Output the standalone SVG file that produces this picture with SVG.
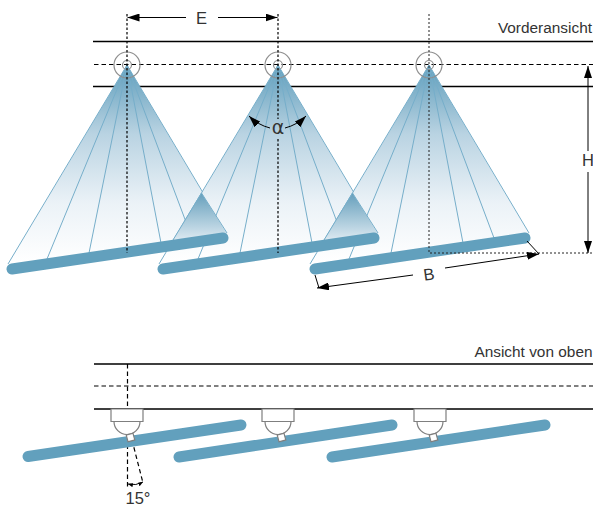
<svg xmlns="http://www.w3.org/2000/svg" xmlns:xlink="http://www.w3.org/1999/xlink" width="593" height="506" viewBox="0 0 593 506">
<style>
.t{font-family:"Liberation Sans",Arial,sans-serif;font-size:15.4px;fill:#333}
.b{font-size:16.5px}
.s{stroke:#000;stroke-width:1.5;fill:none}
.d{stroke:#000;stroke-width:1.2;fill:none;stroke-dasharray:4.500 3}
.dv{stroke:#000;stroke-width:1.2;fill:none;stroke-dasharray:2.500 2}
.ds{stroke:#222;stroke-width:1;fill:none;stroke-dasharray:2 2}
.a{stroke:#000;stroke-width:1;fill:none}
.ray{stroke:#76aeca;stroke-width:1;fill:none}
.bar{stroke:#62a0bd;stroke-width:11;stroke-linecap:round;fill:none}
.g{stroke:#8f8f8f;stroke-width:1.2;fill:none}
.c{stroke:#7f7f7f;stroke-width:1.2;fill:#fff}
</style>
<defs>
<linearGradient id="cone" gradientUnits="userSpaceOnUse" x1="0" y1="65" x2="0" y2="262">
<stop offset="0" stop-color="#5e9dbb"/><stop offset=".35" stop-color="#b9d3e2"/><stop offset=".7" stop-color="#ebf2f7"/><stop offset="1" stop-color="#fff"/>
</linearGradient>
<linearGradient id="ov" gradientUnits="userSpaceOnUse" x1="0" y1="193" x2="0" y2="240">
<stop offset="0" stop-color="#659fbc"/><stop offset="1" stop-color="#dce9f1"/>
</linearGradient>
<marker id="ah" viewBox="0 0 12 8" refX="12" refY="4" markerWidth="12" markerHeight="8" markerUnits="userSpaceOnUse" orient="auto-start-reverse"><path d="M0 0L12 4L0 8Z" fill="#000"/></marker>
<marker id="as" viewBox="0 0 5 4" refX="5" refY="2" markerWidth="5" markerHeight="4" markerUnits="userSpaceOnUse" orient="auto-start-reverse"><path d="M0 0L5 2L0 4Z" fill="#000"/></marker>
<g id="fan">
<path d="M127 65L8 265L227 234Z" fill="url(#cone)"/>
<path class="ray" d="M127 65L8 264M127 65L47 259M127 65L89 253M127 65L161 243M127 65L192 238M127 65L227 233"/>
<circle cx="127" cy="65" r="13" class="g"/><circle cx="127" cy="65" r="4.500" class="g"/>
</g>
<g id="cam">
<path class="c" d="M111 409H143V421.500H111Z"/>
<path class="c" d="M114 421.500A13 13 0 0 0 140 421.500Z"/>
</g>
</defs>
<g id="guides">
<path class="s" d="M93 41.500H593M93 86.500H593M94 364H593M94 409H593"/>
<path class="d" d="M94 64.500H593M94 386H593"/>
</g>
<g id="sensor-1"><use href="#fan"/></g>
<g id="sensor-2"><use href="#fan" x="151"/></g>
<g id="sensor-3"><use href="#fan" x="302"/></g>
<g id="overlaps">
<path d="M201.500 193L227 234L173 240Z" fill="url(#ov)"/>
<path d="M352.500 193L378 234L324 240Z" fill="url(#ov)"/>
<path class="ray" d="M201.500 193L227 233M201.500 193L173 240M352.500 193L378 233M352.500 193L324 240"/>
<path class="bar" d="M12 269L223 238M163 269L374 238M315 269L525 238"/>
</g>
<g id="connectors">
<path class="dv" d="M127 14V253M278 14V119M278 139V253"/>
<path class="ds" d="M429 14V253H593"/>
<path class="a" marker-end="url(#ah)" d="M186 17.500H127.500"/>
<path class="a" marker-end="url(#ah)" d="M218 17.500H277.500"/>
<path class="a" marker-end="url(#ah)" d="M588 151V66"/>
<path class="a" marker-end="url(#ah)" d="M588 172V253"/>
<path class="a" marker-end="url(#ah)" d="M413 275L317 288"/>
<path class="a" marker-end="url(#ah)" d="M445 268L539 254"/>
<path class="a" d="M527 241L539 254M315 275L319 288"/>
<path class="a" marker-start="url(#ah)" d="M249 116Q258 125 270 128"/>
<path class="a" marker-start="url(#ah)" d="M306 116Q297 125 285 128"/>
<path class="d" d="M127.500 364V409M127.500 437V487M132 440L143 483"/>
<path class="a" marker-start="url(#as)" marker-end="url(#as)" d="M128 484Q136 486 143 482"/>
</g>
<g id="top-1"><path class="bar" d="M28 456.500L241 425"/><use href="#cam"/><rect x="127" y="434" width="7" height="7" transform="rotate(-15 130.500 437.500)" class="c"/></g>
<g id="top-2"><path class="bar" d="M179 457L392 425"/><use href="#cam" x="151"/><rect x="278" y="434" width="7" height="7" transform="rotate(-15 281.500 437.500)" class="c"/></g>
<g id="top-3"><path class="bar" d="M332 457L545 425"/><use href="#cam" x="303"/><rect x="430" y="434" width="7" height="7" transform="rotate(-15 433.500 437.500)" class="c"/></g>
<g id="labels">
<text class="t b" x="201.500" y="24" text-anchor="middle">E</text>
<text class="t" x="592" y="33" text-anchor="end">Vorderansicht</text>
<text class="t b" x="588" y="166" text-anchor="middle">H</text>
<text class="t b" x="429" y="280" text-anchor="middle" transform="rotate(-8 429 274)">B</text>
<text class="t" x="278" y="134" text-anchor="middle" style="font-family:'DejaVu Sans',sans-serif;font-size:19px">α</text>
<text class="t" x="592.500" y="357" text-anchor="end">Ansicht von oben</text>
<text class="t b" x="138" y="503.500" text-anchor="middle">15°</text>
</g>
</svg>
